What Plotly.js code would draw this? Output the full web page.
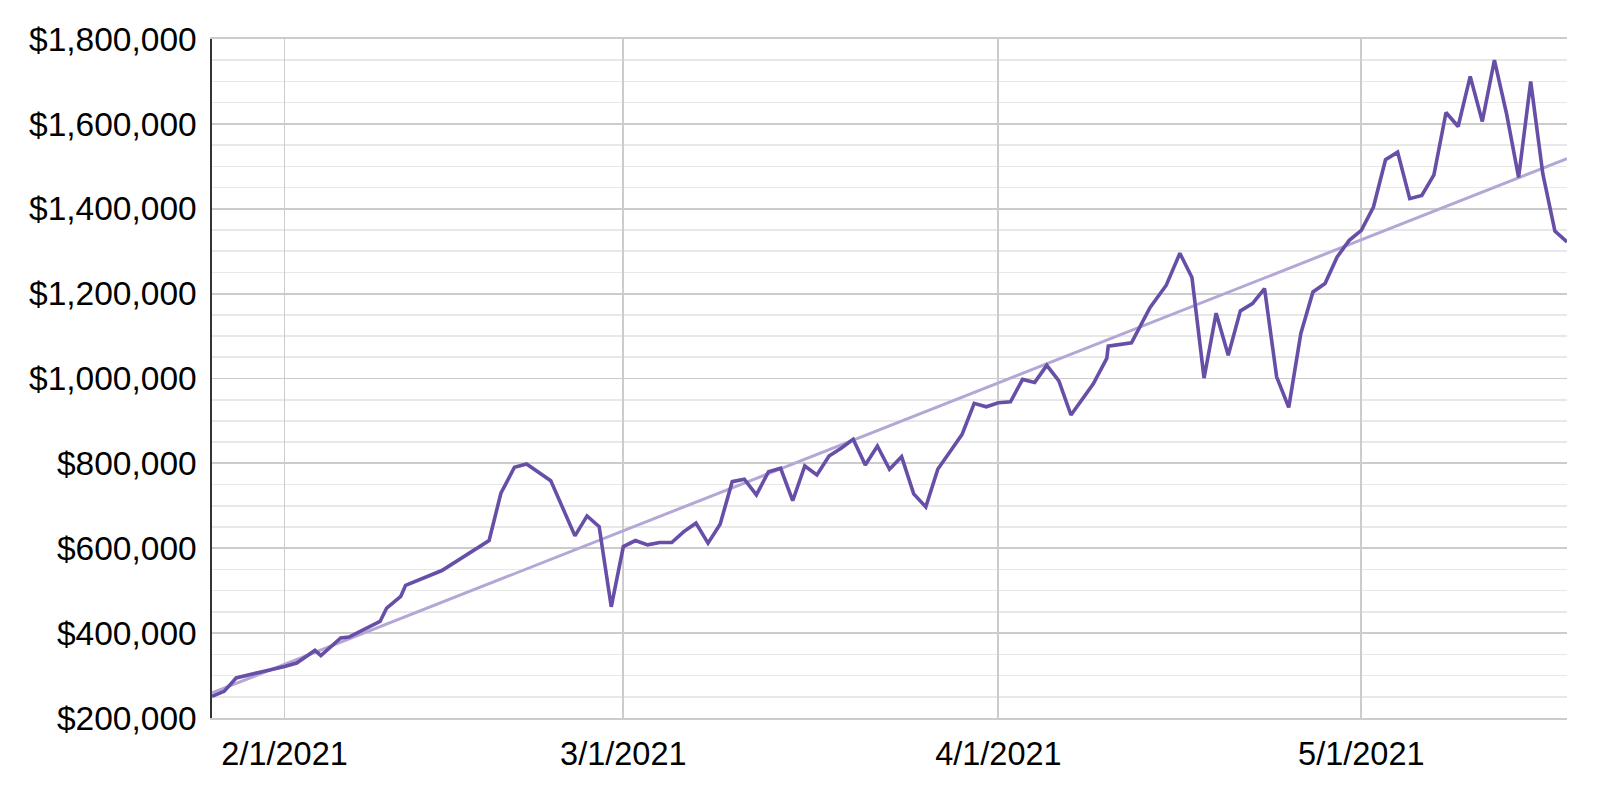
<!DOCTYPE html>
<html>
<head>
<meta charset="utf-8">
<script src="https://cdn.plot.ly/plotly-3.0.1.min.js"></script>
<style>html,body{margin:0;padding:0;background:#fff;}#chart{width:1600px;height:794px;}</style>
</head>
<body>
<div id="chart"></div>
<script>
// Balance series
const dates = [
  '2021-01-26','2021-01-27','2021-01-28','2021-01-29','2021-01-30','2021-01-31',
  '2021-02-01','2021-02-02','2021-02-02 14:24','2021-02-03 12:14','2021-02-04',
  '2021-02-05 15:22','2021-02-06 07:41','2021-02-08 21:22','2021-02-09 10:34',
  '2021-02-10 14:24','2021-02-11','2021-02-14','2021-02-17 21:36','2021-02-18 21:07',
  '2021-02-20','2021-02-21','2021-02-23','2021-02-25','2021-02-26','2021-02-27','2021-02-28',
  '2021-03-01','2021-03-02','2021-03-03','2021-03-04','2021-03-05','2021-03-06','2021-03-07',
  '2021-03-08','2021-03-09','2021-03-10','2021-03-11','2021-03-12','2021-03-13','2021-03-14',
  '2021-03-15','2021-03-16','2021-03-17','2021-03-18','2021-03-19','2021-03-20','2021-03-21',
  '2021-03-22','2021-03-23','2021-03-24','2021-03-25','2021-03-26','2021-03-27','2021-03-28',
  '2021-03-29','2021-03-30','2021-03-31',
  '2021-04-01','2021-04-02','2021-04-03','2021-04-04','2021-04-05','2021-04-06','2021-04-07',
  '2021-04-08 20:00','2021-04-09 23:00','2021-04-10 02:00','2021-04-12','2021-04-12 17:00',
  '2021-04-13 13:00','2021-04-14 21:00','2021-04-16','2021-04-17','2021-04-18','2021-04-19',
  '2021-04-20','2021-04-21','2021-04-22','2021-04-23','2021-04-24','2021-04-25','2021-04-26',
  '2021-04-27','2021-04-28','2021-04-29','2021-04-30',
  '2021-05-01','2021-05-02','2021-05-03','2021-05-04','2021-05-05','2021-05-06','2021-05-07',
  '2021-05-08','2021-05-09','2021-05-10','2021-05-11','2021-05-12','2021-05-13','2021-05-14',
  '2021-05-15','2021-05-16','2021-05-17','2021-05-18'
];
const balances = [
  251000,262800,294400,300900,308000,315500,
  321600,329600,341400,359300,346800,
  388500,390800,427500,459100,
  486400,512700,547500,618100,729600,
  790800,798600,759300,629200,676200,651100,462000,
  604000,618100,608000,613400,613400,639300,659100,
  612000,656700,756900,762600,725600,780500,788500,
  712000,793900,772700,817400,835500,857000,796200,
  840900,786100,815800,728000,697400,786800,827500,
  868500,941400,933400,
  942800,945200,997900,990800,1031000,994600,914000,
  986800,1047300,1076200,1084000,1123300,
  1167300,1219800,1295000,1237900,1001000,1153900,
  1055000,1159300,1176700,1212000,1004000,932000,1106100,
  1204000,1223800,1286400,1325600,
  1349200,1404000,1515500,1533400,1423800,1431500,1479800,
  1626800,1593900,1712000,1605600,1750000,1624500,1473900,
  1700000,1482600,1347500,1321600
];
// Trend line end points
const trendDates = ['2021-01-26','2021-05-18'];
const trendValues = [259000, 1518000];
// Axis ticks
const xTickVals = ['2021-02-01','2021-03-01','2021-04-01','2021-05-01'];
const xTickText = ['2/1/2021','3/1/2021','4/1/2021','5/1/2021'];

const traces = [
  {x: trendDates, y: trendValues, type:'scatter', mode:'lines',
   line:{color:'#b4a7d6', width:3}, hoverinfo:'skip'},
  {x: dates, y: balances, type:'scatter', mode:'lines',
   line:{color:'#674ea7', width:3.6}}
];

const layout = {
  width:1600, height:794,
  margin:{l:212, r:33, t:39, b:76, pad:0},
  paper_bgcolor:'#ffffff', plot_bgcolor:'#ffffff',
  showlegend:false,
  font:{family:'"Liberation Sans", Arial, sans-serif', size:32.5, color:'#000000'},
  xaxis:{
    type:'date', range:['2021-01-26','2021-05-18'],
    tickmode:'array', tickvals:xTickVals, ticktext:xTickText,
    tickfont:{size:32.5},
    showgrid:true, gridcolor:'#cccccc', gridwidth:1.8,
    showline:true, linecolor:'#cccccc', linewidth:1.8, mirror:true,
    ticks:'', ticklabelstandoff:6, zeroline:false
  },
  yaxis:{
    range:[200000,1800000], tick0:200000, dtick:200000,
    tickprefix:'$', tickformat:',d',
    tickfont:{size:33.5},
    showgrid:true, gridcolor:'#cccccc', gridwidth:1.8,
    minor:{tick0:200000, dtick:50000, showgrid:true, gridcolor:'#e8e8e8', gridwidth:1.6},
    showline:true, linecolor:'#333333', linewidth:1.6,
    ticks:'', ticklabelstandoff:7, zeroline:false
  }
};

Plotly.newPlot('chart', traces, layout, {staticPlot:true, displayModeBar:false});
</script>
</body>
</html>
